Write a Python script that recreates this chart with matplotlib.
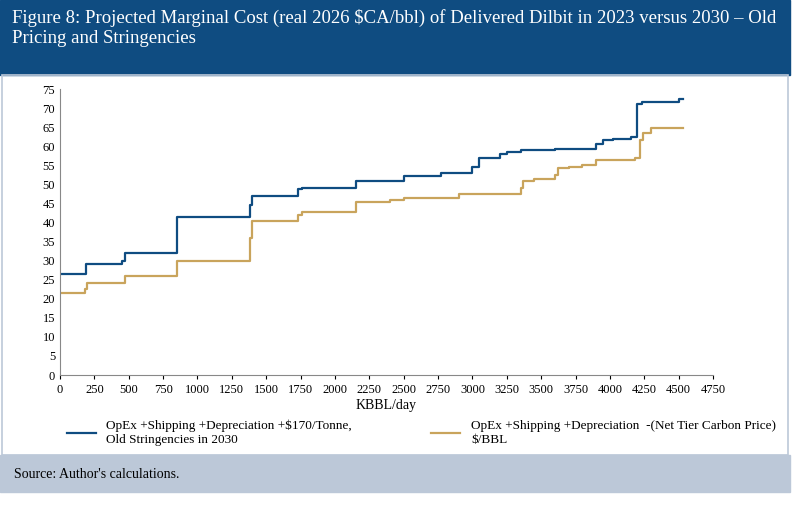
import matplotlib
matplotlib.use("Agg")
import matplotlib.pyplot as plt
from matplotlib.patches import Rectangle

blue_x = [0, 190, 450, 470, 850, 1380, 1400, 1730, 1760, 2150, 2500, 2770, 3000, 3050, 3200, 3250, 3350, 3600, 3900, 3950, 4020, 4150, 4200, 4230, 4500, 4530]
blue_y = [26.5, 29, 30, 32, 41.5, 44.5, 47, 48.7, 49, 51, 52.2, 53, 54.5, 57, 58, 58.5, 59, 59.3, 60.5, 61.5, 62, 62.5, 71, 71.5, 72.5, 72.5]
gold_x = [0, 180, 200, 470, 850, 1380, 1400, 1730, 1760, 2150, 2400, 2500, 2900, 3350, 3370, 3450, 3600, 3620, 3700, 3800, 3900, 4180, 4220, 4240, 4300, 4530]
gold_y = [21.5, 22.5, 24, 26, 30, 36, 40.3, 42, 42.7, 45.3, 46, 46.5, 47.5, 49, 51, 51.3, 52.5, 54.3, 54.5, 55.2, 56.3, 57, 61.5, 63.5, 64.7, 64.7]
xticks = list(range(0, 4751, 250))
yticks = list(range(0, 76, 5))

plt.rcParams['font.family'] = ['Liberation Serif', 'DejaVu Serif']
fig = plt.figure(figsize=(8, 5.08), dpi=100)
fig.patches.append(Rectangle((0, 1 - 75/508), 790/800, 75/508, transform=fig.transFigure, color='#0f4c81', zorder=0))
fig.patches.append(Rectangle((0, 1 - 492/508), 790/800, (492-455)/508, transform=fig.transFigure, color='#bcc8d8', zorder=0))
fig.patches.append(Rectangle((2/800, 1 - 455/508), 786/800, (455-75)/508, transform=fig.transFigure, fill=False, ec='#bcc8d8', lw=1.2, zorder=0))
fig.text(12/800, 1 - 28/508, "Figure 8: Projected Marginal Cost (real 2026 $CA/bbl) of Delivered Dilbit in 2023 versus 2030 – Old\nPricing and Stringencies",
         color='white', fontsize=13.5, va='center', linespacing=1.3)
fig.text(14/800, 1 - 475/508, "Source: Author's calculations.", fontsize=10, va='center')

ax = fig.add_axes([60/800, 1 - 375/508, (713-60)/800, (375-89)/508])
ax.step(blue_x, blue_y, where='post', color='#0f4c81', lw=1.6)
ax.step(gold_x, gold_y, where='post', color='#c9a45c', lw=1.6)
ax.set_xlim(0, 4750)
ax.set_ylim(0, 75)
ax.set_xticks(xticks)
ax.set_yticks(yticks)
ax.tick_params(labelsize=9, length=0)
ax.tick_params(axis='x', length=3)
for s in ['top', 'right']:
    ax.spines[s].set_visible(False)
for s in ['left', 'bottom']:
    ax.spines[s].set_color('#888888')
ax.set_xlabel("KBBL/day", fontsize=10, labelpad=2)

fig.legend(handles=ax.get_lines(),
           labels=["OpEx +Shipping +Depreciation +$170/Tonne,\nOld Stringencies in 2030",
                   "OpEx +Shipping +Depreciation  -(Net Tier Carbon Price)\n$/BBL"],
           loc='upper left', bbox_to_anchor=(55/800, 1 - 408/508), ncol=2, frameon=False,
           fontsize=9.5, columnspacing=6, handlelength=2.2)
fig.savefig("out.png", dpi=100)
